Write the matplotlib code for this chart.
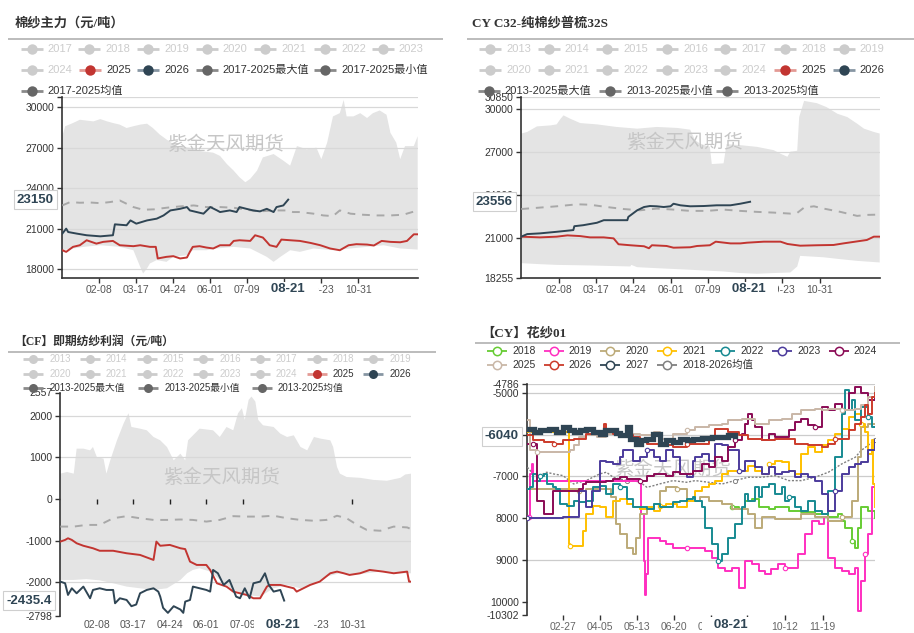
import numpy as np
import matplotlib
matplotlib.use('Agg')
import matplotlib.pyplot as plt

plt.rcParams['font.family'] = ['Liberation Sans', 'Noto Sans CJK SC']
plt.rcParams['axes.unicode_minus'] = False

# ---------------- DATA ----------------
# Top-left: 棉纱主力 (day of year)
tl_up_days = [0,3,11,18,32,39,46,52,59,66,73,80,87,93,100,107,117,131,141,155,162,169,176,182,188,193,200,206,217,227,234,241,251,261,266,272,278,285,289,292,299,306,313,319,326,333,337,343,347,352,361,365]
tl_up_vals = [27850,28590,28830,29070,28950,29120,28950,28830,28710,28460,28590,28710,28780,28460,27980,27610,27120,27000,26760,26630,26390,25790,25300,24810,24440,24690,25300,26280,26530,26040,25670,27120,26880,27000,26150,27370,29320,29560,30540,29320,29320,29560,29200,29560,29760,29440,28100,27370,26150,27120,27120,27850]
tl_lo_days = [0,22,39,59,73,80,83,87,90,97,107,114,128,134,148,159,176,193,210,217,224,234,244,258,278,296,313,330,347,365]
tl_lo_vals = [19400,19650,19770,19650,19400,18170,17680,18050,18420,18670,18540,18910,19030,19400,19400,19530,19650,19530,18910,18540,18910,19400,19280,19530,19400,19530,19650,19770,19530,19450]
tl_2025_days = [0,4,11,18,25,35,42,52,59,73,80,90,96,98,107,114,121,128,131,134,141,148,155,162,172,176,182,193,198,206,210,213,220,225,234,244,255,265,275,285,294,302,313,320,328,337,347,354,361,365]
tl_2025_vals = [19400,19280,19650,19770,20140,19890,20020,20090,19770,19700,19770,19650,19650,18790,18910,18960,18790,18860,19280,19650,19700,19600,19530,19770,19770,20090,20140,20090,20510,20340,20020,19770,19650,20190,20140,20090,19940,19770,19530,19400,19770,19850,19820,19750,20090,20020,19990,20090,20580,20580]
tl_2026_days = [0,4,6,15,25,39,52,54,66,70,76,87,97,104,111,121,128,131,138,145,152,159,162,172,179,182,189,196,203,210,217,220,227,232]
tl_2026_vals = [20630,21000,20750,20630,20510,20430,20510,21320,21250,21610,21370,21610,21740,21980,22350,22470,22600,22350,22230,22110,22600,22350,22230,22350,22230,22600,22470,22350,22280,22470,22230,22600,22720,23150]
tl_mean_days = [0,8,18,28,39,49,59,73,83,94,107,121,135,148,162,176,189,203,217,230,237,244,258,268,278,285,296,309,323,337,350,365]
tl_mean_vals = [22720,22970,22920,22940,22890,22970,23090,22600,22400,22430,22550,22650,22720,22600,22600,22550,22400,22280,22350,22350,22230,22230,22110,21980,21930,22350,22110,22030,21980,21980,22030,22350]

# Top-right: CY C32
tr_up_days = [0,6,16,30,36,40,43,50,60,77,97,118,138,159,172,177,182,192,194,206,208,209,223,240,257,265,271,274,281,283,288,301,311,322,332,342,349,359,365]
tr_up_vals = [28320,28430,28820,28890,28960,29350,29590,29350,29050,28960,28780,28660,28780,28710,28590,27850,27620,27390,26190,26240,27120,27580,27510,27390,27160,26880,26700,27050,27120,29470,30600,30440,30160,29700,29470,29010,28660,28430,28320]
tr_lo_days = [0,19,36,70,87,111,112,118,138,172,206,223,240,257,274,281,284,308,325,342,365]
tr_lo_vals = [19270,19200,19150,19110,19080,19040,19150,18990,18920,18810,18690,18580,18530,18580,18620,19040,19780,19680,19550,19430,19320]
tr_2025_days = [0,19,36,47,60,70,84,94,99,111,125,130,133,148,155,172,179,192,198,213,223,230,247,264,271,284,301,318,328,342,352,359,365]
tr_2025_vals = [21120,21070,21120,21210,21160,21070,21070,21000,20590,20520,20450,20310,20520,20470,20350,20380,20470,20520,20770,20650,20650,20700,20770,20770,20610,20490,20520,20540,20650,20790,20890,21120,21120]
tr_2026_days = [0,6,19,36,53,54,63,77,84,97,108,109,118,125,131,138,145,152,155,162,172,186,199,213,223,233]
tr_2026_vals = [21120,21300,21350,21460,21580,21850,21920,22090,22270,22270,22270,22500,22960,23190,23260,23240,23190,23240,23420,23310,23240,23260,23310,23310,23420,23556]
tr_mean_days = [0,19,36,57,70,87,104,121,138,155,172,189,206,223,240,257,274,281,288,298,308,325,342,352,365]
tr_mean_vals = [23050,23150,23240,23380,23350,23190,23050,22960,23080,23010,22920,22920,23010,22920,22850,22800,22730,22780,23150,23240,23080,22850,22570,22640,22660]

# Bottom-left: 即期纺纱利润
bl_up_days = [0,7,14,17,24,31,34,38,45,48,52,59,66,71,74,83,90,97,104,111,118,125,130,133,145,159,166,173,180,185,189,192,196,199,203,206,211,222,229,236,243,250,257,264,271,281,284,288,291,298,312,326,340,354,359,365]
bl_up_vals = [610,650,610,1210,1210,1170,1250,1010,970,610,930,1410,1820,2060,1730,1690,1650,1490,1410,1250,930,1090,930,1410,1690,1650,1490,1730,1650,2060,2180,1900,2380,2460,2340,1900,1770,1730,1570,1490,1530,1250,1170,1490,1450,1410,1250,770,610,530,510,460,440,510,590,610]
bl_lo_days = [0,14,27,41,55,69,83,97,111,125,132,138,145,156,166,180,194,208,222,236,250,264,277,291,305,319,333,347,361,365]
bl_lo_vals = [-1940,-1940,-1920,-1950,-2020,-2100,-2140,-2180,-2140,-1940,-1780,-1700,-1660,-1740,-1940,-2180,-2300,-2340,-2140,-2060,-2140,-2020,-1860,-1780,-1820,-1780,-1740,-1780,-1780,-1780]
bl_2025_days = [0,5,8,12,17,24,34,41,55,69,83,90,97,100,104,114,125,130,135,142,152,156,163,173,180,194,201,208,215,218,229,236,243,246,253,260,270,281,288,295,301,312,322,336,347,361,363,365]
bl_2025_vals = [-1020,-980,-940,-980,-1060,-1120,-1180,-1240,-1240,-1300,-1340,-1400,-1460,-1020,-1120,-1100,-1180,-1200,-1500,-1580,-1580,-1700,-2020,-2100,-2220,-2300,-2380,-2380,-2100,-2060,-2060,-2100,-2140,-2220,-2140,-2060,-1980,-1780,-1740,-1780,-1820,-1780,-1700,-1740,-1780,-1740,-1980,-1980]
bl_2026_days = [0,5,8,12,17,24,31,34,41,48,55,57,62,69,74,79,83,90,97,102,104,107,112,118,125,128,130,135,138,145,152,156,159,164,170,176,183,187,192,197,201,208,213,217,222,229,233]
bl_2026_vals = [-1980,-2020,-2300,-2140,-2260,-2100,-2380,-2180,-2140,-2180,-2180,-2500,-2380,-2420,-2570,-2530,-2260,-2180,-2140,-2220,-2340,-2610,-2730,-2570,-2650,-2730,-2460,-2420,-2100,-2140,-2180,-2220,-1700,-1780,-2060,-1940,-2340,-2380,-2140,-2380,-2020,-1980,-1780,-2060,-2220,-2180,-2435.4]
bl_mean_days = [0,14,27,41,55,69,83,97,111,125,138,152,166,180,194,208,222,236,250,264,277,288,298,309,319,333,347,361,365]
bl_mean_vals = [-660,-660,-620,-620,-460,-410,-460,-500,-500,-490,-500,-540,-500,-410,-420,-420,-400,-460,-500,-520,-500,-400,-460,-620,-740,-760,-660,-680,-720]

# Bottom-right: 花纱01 (days from axis start)
br_2018_days = [212,219,226,233,240,250,257,271,284,298,312,322,326,329,336,340,343,346,353,360]
br_2018_vals = [-7740,-7780,-7580,-7540,-7740,-7780,-7740,-7820,-7860,-7900,-7980,-7900,-8060,-8220,-8540,-8700,-8220,-7740,-7820,-7990]
br_2019_days = [0,2,3,5,6,117,118,121,122,123,125,131,137,144,151,165,174,184,191,198,205,212,219,226,233,240,246,253,260,267,274,281,288,295,302,307,312,319,326,333,340,343,346,350,353,357,360]
br_2019_vals = [-7980,-7980,-6940,-6700,-7100,-7100,-7900,-9020,-9820,-9340,-8460,-8460,-8540,-8620,-8700,-8700,-8700,-8780,-8940,-9180,-9260,-9180,-9660,-9020,-9100,-9260,-9340,-9220,-9100,-9180,-9180,-8860,-8380,-8060,-8140,-7980,-8940,-9180,-9260,-9340,-9180,-10220,-9500,-8860,-8380,-7260,-7260]
br_2020_days = [0,27,54,61,82,87,92,96,103,110,113,117,124,131,137,144,155,165,179,188,202,212,229,236,243,257,271,284,298,312,326,336,343,346,353,360]
br_2020_vals = [-7300,-7300,-7340,-7300,-7300,-7500,-8140,-8380,-8700,-8860,-8460,-7900,-7740,-7660,-7340,-7260,-7300,-7580,-7500,-7580,-7660,-7780,-7900,-8220,-7980,-8020,-8020,-7900,-7980,-8060,-7980,-7580,-6540,-5820,-5740,-5740]
br_2021_days = [0,41,43,44,56,58,61,68,75,82,89,96,103,110,117,124,131,137,144,155,165,174,181,188,195,202,208,222,229,236,243,250,257,264,271,277,284,291,298,305,312,319,326,333,340,346,350,353,357,358,360]
br_2021_vals = [-5940,-5940,-8620,-8660,-8660,-8300,-7900,-7700,-7740,-7980,-7580,-7540,-7660,-7740,-7780,-7740,-7820,-7700,-7660,-7740,-7580,-7340,-7260,-7180,-7100,-6940,-6860,-6860,-6740,-6860,-6940,-6700,-6620,-6660,-6860,-6940,-6460,-6300,-6420,-6260,-6140,-5980,-5860,-5580,-5500,-5740,-5940,-6460,-6140,-7180,-7740]
br_2022_days = [0,3,6,10,13,17,20,27,30,34,41,48,54,61,68,75,82,89,96,103,110,124,131,137,151,158,165,172,174,181,184,191,198,202,208,215,222,226,229,236,240,243,250,257,264,267,271,277,284,291,298,305,312,319,326,329,333,336,340,346,353,357,360]
br_2022_vals = [-7300,-7260,-6940,-7100,-6980,-6940,-7180,-7260,-7300,-7660,-7700,-7580,-7620,-7580,-7260,-7220,-7420,-7180,-7260,-7540,-7740,-7780,-7660,-7740,-7620,-7580,-7540,-7500,-7580,-7740,-8220,-8620,-9020,-8860,-8460,-8140,-7740,-7420,-7580,-7260,-7500,-7260,-7180,-7420,-7260,-7580,-7500,-7740,-7820,-7580,-7820,-7900,-7340,-6540,-5500,-4940,-5420,-5180,-5660,-5340,-5580,-5820,-5820]
br_2023_days = [0,37,51,54,61,67,75,82,89,96,99,106,110,117,124,131,137,144,151,158,165,172,174,181,188,195,202,208,219,226,236,243,250,257,264,271,277,284,291,298,305,312,319,326,333,340,346,353,360]
br_2023_vals = [-7990,-7980,-7980,-7340,-7740,-7340,-6620,-6660,-6700,-6540,-6380,-6380,-6620,-6540,-6380,-6540,-6620,-6380,-6540,-6940,-7020,-6620,-6540,-6460,-6620,-6220,-6260,-6380,-6860,-6620,-6780,-6940,-6780,-6940,-6900,-6860,-7020,-6940,-7020,-7100,-7420,-7820,-7340,-6940,-6780,-6700,-6660,-6380,-6140]
br_2024_days = [0,6,10,17,23,27,41,54,58,61,68,82,89,96,103,117,124,131,144,151,158,165,172,174,181,188,195,202,208,215,222,226,229,233,236,243,250,257,264,271,277,284,291,298,305,312,319,326,333,340,346,353,360]
br_2024_vals = [-6220,-6220,-7580,-7900,-7900,-7340,-7340,-7300,-7180,-7140,-7140,-7100,-7060,-7020,-7060,-7100,-6980,-6940,-6980,-6900,-6940,-6940,-6860,-6860,-6700,-6780,-6540,-6620,-6300,-6140,-5980,-5740,-5500,-5660,-5820,-6140,-5980,-6060,-6060,-5900,-5700,-5620,-5780,-5820,-5340,-5420,-5260,-5420,-5020,-4860,-5020,-5180,-5100]
br_2025_days = [0,3,10,37,44,48,54,61,72,82,96,106,117,131,137,151,165,174,188,202,208,222,236,250,264,274,284,298,305,312,326,340,346,353,360]
br_2025_vals = [-5660,-6380,-6420,-6420,-6380,-6260,-6060,-6020,-6060,-5980,-6020,-5980,-6020,-5940,-6100,-5980,-5900,-5820,-5780,-5740,-5660,-5620,-5740,-5660,-5620,-5500,-5420,-5380,-5420,-5380,-5420,-5380,-5300,-5100,-4860]
br_2026_days = [0,6,17,28,37,48,61,68,79,82,89,96,110,117,124,137,151,165,174,188,195,208,219,229,243,257,267,277,291,305,312,319,333,340,346,350,353,357,360]
br_2026_vals = [-6020,-6140,-6180,-6220,-6140,-6100,-5980,-5940,-5740,-5940,-5980,-6020,-6060,-6140,-6220,-6260,-6300,-6220,-6220,-6100,-5860,-5940,-6020,-6100,-6140,-6100,-6100,-6220,-6260,-6300,-6220,-6100,-5900,-5740,-5580,-5300,-5500,-5100,-5020]
br_2027_days = [0,7,13,22,30,37,43,48,55,61,68,75,80,86,92,96,103,106,113,118,123,130,137,144,151,158,165,172,181,191,200,208,215]
br_2027_vals = [-5860,-5940,-5900,-5860,-5940,-5820,-5900,-5940,-5880,-5860,-5940,-5980,-5900,-5900,-5960,-6020,-5820,-6100,-6220,-6120,-6100,-5980,-6220,-6140,-6180,-6100,-6140,-6100,-6080,-6060,-6060,-6020,-6040]
br_mean_days = [0,6,13,20,27,37,48,54,61,68,75,82,89,96,103,110,117,124,131,137,144,151,165,174,188,202,215,229,243,257,271,284,298,312,326,340,346,353,360]
br_mean_vals = [-6780,-6940,-6980,-6900,-6940,-6980,-7180,-7140,-7100,-7020,-6940,-6900,-7020,-7060,-7100,-7100,-7140,-7260,-7220,-7180,-7140,-7100,-7140,-7100,-7140,-7180,-7100,-7020,-7020,-6980,-7100,-7100,-7020,-6900,-6700,-6540,-6380,-6260,-6140]

# ticks / labels
md_ticks = [38, 76, 114, 152, 190, 228, 266, 304]
md_labels = ['02-08', '03-17', '04-24', '06-01', '07-09', '08-16', '09-23', '10-31']
br_ticks = [37, 75, 114, 152, 190, 228, 267, 306]
br_labels = ['02-27', '04-05', '05-13', '06-20', '07-28', '09-04', '10-12', '11-19']
bl_zero_ticks = [38, 76, 114, 152, 190, 304]

tl_yticks = [18000, 21000, 24000, 27000, 30000, 30780]
tl_ylabels = ['18000', '21000', '24000', '27000', '30000', '']
tr_yticks = [18255, 21000, 24000, 27000, 30000, 30850]
tr_ylabels = ['18255', '21000', '24000', '27000', '30000', '30850']
bl_yticks = [-2798, -2000, -1000, 0, 1000, 2000, 2557]
bl_ylabels = ['-2798', '-2000', '-1000', '0', '1000', '2000', '2557']
br_yticks = [-10302, -10000, -9000, -8000, -7000, -6000, -5000, -4786]
br_ylabels = ['-10302', '10000', '9000', '8000', '-7000', '-6000', '-5000', '-4786']

years_tl = ['2017', '2018', '2019', '2020', '2021', '2022', '2023', '2024']
years_tr = ['2013', '2014', '2015', '2016', '2017', '2018', '2019', '2020', '2021', '2022', '2023', '2024']

RED = '#c23531'
NAVY = '#2f4554'
FILL = '#e4e4e4'
MEANC = '#a8a8a8'

# ---------------- FIGURE ----------------
W, H = 914, 633
fig = plt.figure(figsize=(W / 100, H / 100), dpi=100)
fig.patch.set_facecolor('white')


def add_ax(l, t, r, b):
    return fig.add_axes([l / W, 1 - b / H, (r - l) / W, (b - t) / H])


def style_ax(ax, xlim, ylim, xt, xl, yt, yl, grid_vals, grid_color, bottom=True, xtick_len=3.6):
    ax.set_xlim(*xlim)
    ax.set_ylim(*ylim)
    ax.set_facecolor('none')
    for s in ['top', 'right']:
        ax.spines[s].set_visible(False)
    ax.spines['left'].set_color('#333333')
    ax.spines['left'].set_linewidth(1.2)
    if bottom:
        ax.spines['bottom'].set_color('#333333')
        ax.spines['bottom'].set_linewidth(1.2)
    else:
        ax.spines['bottom'].set_visible(False)
    ax.set_xticks(xt, xl)
    ax.set_yticks(yt, yl)
    ax.tick_params(axis='x', length=xtick_len, width=1, color='#333333', labelsize=7.5,
                   labelcolor='#555555', pad=1.8)
    ax.tick_params(axis='y', length=3.4, width=1, color='#333333', labelsize=7.5,
                   labelcolor='#333333', pad=2.5)
    for v in grid_vals:
        ax.axhline(v, color=grid_color, lw=0.9, zorder=1.5)


def band(ax, ud, uv, ld, lv):
    ax.fill(np.concatenate([ud, ld[::-1]]), np.concatenate([uv, lv[::-1]]),
            color=FILL, lw=0, zorder=1)


def watermark(ax, fx, fy):
    ax.text(fx, fy, '紫金天风期货', transform=ax.transAxes, fontsize=14, color='#c6c6c6',
            ha='center', va='center', zorder=1.6, family=['Noto Sans CJK SC'])


def x_pointer(ax, day, text, dy):
    ax.annotate('   ' + text + '   ', xy=(day, 0), xycoords=('data', 'axes fraction'),
                xytext=(0, -dy), textcoords='offset points', ha='center', va='center',
                fontsize=9.5, fontweight='bold', color=NAVY,
                bbox=dict(boxstyle='square,pad=0.12', fc='white', ec='none'),
                zorder=20, annotation_clip=False)


def y_pointer(ax, val, text):
    ax.annotate(text, xy=(0, val), xycoords=('axes fraction', 'data'),
                xytext=(-6, 0), textcoords='offset points', ha='right', va='center',
                fontsize=9.5, fontweight='bold', color=NAVY,
                bbox=dict(boxstyle='square,pad=0.25', fc='white', ec='#cfcfcf', lw=0.8),
                zorder=20, annotation_clip=False)


def seasonal(ax, ud, uv, ld, lv, md, mv, d25, v25, d26, v26):
    band(ax, np.array(ud), np.array(uv), np.array(ld), np.array(lv))
    ax.plot(md, mv, color=MEANC, lw=1.4, ls=(0, (4, 3.5)), zorder=3)
    ax.plot(d25, v25, color=RED, lw=1.4, zorder=4)
    ax.plot(d26, v26, color=NAVY, lw=1.4, zorder=5)


# ---- Top-left
ax1 = add_ax(62.3, 96.7, 417.7, 277.7)
style_ax(ax1, (0, 365), (17364, 30780), md_ticks, md_labels, tl_yticks, tl_ylabels,
         [21000, 24000, 27000, 30000, 30780, 18000], '#d8d8d8')
seasonal(ax1, tl_up_days, tl_up_vals, tl_lo_days, tl_lo_vals, tl_mean_days, tl_mean_vals,
         tl_2025_days, tl_2025_vals, tl_2026_days, tl_2026_vals)
watermark(ax1, 0.46, 0.735)
x_pointer(ax1, 232, '08-21', 8.4)
y_pointer(ax1, 23150, '23150')

# ---- Top-right
ax2 = add_ax(521.3, 97.3, 879.7, 277.7)
style_ax(ax2, (0, 365), (18255, 30850), md_ticks, md_labels, tr_yticks, tr_ylabels,
         [21000, 24000, 27000, 30000, 30850], '#d8d8d8')
seasonal(ax2, tr_up_days, tr_up_vals, tr_lo_days, tr_lo_vals, tr_mean_days, tr_mean_vals,
         tr_2025_days, tr_2025_vals, tr_2026_days, tr_2026_vals)
watermark(ax2, 0.457, 0.747)
x_pointer(ax2, 232, '08-21', 8.4)
y_pointer(ax2, 23556, '23556')

# ---- Bottom-left
ax3 = add_ax(60.3, 392.5, 411.0, 615.7)
style_ax(ax3, (0, 365), (-2798, 2557), md_ticks, md_labels, bl_yticks, bl_ylabels,
         [2000, 1000, -1000, -2000], '#d8d8d8', bottom=False, xtick_len=0)
ax3.tick_params(axis='x', pad=3.2)
seasonal(ax3, bl_up_days, bl_up_vals, bl_lo_days, bl_lo_vals, bl_mean_days, bl_mean_vals,
         bl_2025_days, bl_2025_vals, bl_2026_days, bl_2026_vals)
ax3.plot(bl_zero_ticks, np.zeros(len(bl_zero_ticks)), ls='none', marker=3, ms=3.5,
         mew=1, color='#222222', zorder=6)
watermark(ax3, 0.46, 0.62)
x_pointer(ax3, 232, '08-21', 6.6)
y_pointer(ax3, -2435.4, '-2435.4')

# ---- Bottom-right
ax4 = add_ax(527.3, 383.7, 874.7, 614.7)
style_ax(ax4, (0, 360), (-10302, -4786), br_ticks, br_labels, br_yticks, br_ylabels,
         [-4786, -5000, -6000, -7000, -8000, -9000], '#cccccc', bottom=False)
ax4.tick_params(axis='x', labelcolor='#666666', pad=1.6)
watermark(ax4, 0.42, 0.63)
br_series = [
    ('2018', br_2018_days, br_2018_vals, '#66cc33', 1.4),
    ('2019', br_2019_days, br_2019_vals, '#ff2fc0', 1.4),
    ('2020', br_2020_days, br_2020_vals, '#bcaa78', 1.4),
    ('2021', br_2021_days, br_2021_vals, '#ffc000', 1.4),
    ('2022', br_2022_days, br_2022_vals, '#178a92', 1.4),
    ('2023', br_2023_days, br_2023_vals, '#4c3b9c', 1.4),
    ('2024', br_2024_days, br_2024_vals, '#8a0b55', 1.4),
    ('2025', br_2025_days, br_2025_vals, '#c9b7a7', 1.4),
    ('2026', br_2026_days, br_2026_vals, '#cc3b2b', 1.4),
    ('2027', br_2027_days, br_2027_vals, NAVY, 3.8),
]
for i, (name, d, v, c, lw) in enumerate(br_series):
    if name == '2027':
        ax4.plot(d, v, color=c, lw=lw, drawstyle='steps-post', zorder=4.5,
                 solid_joinstyle='miter')
    else:
        ax4.plot(d, v, color=c, lw=lw, drawstyle='steps-post', marker='o', ms=3.2,
                 mfc='white', mec=c, mew=0.8, markevery=(i % 5, 14), zorder=3 + i * 0.1)
ax4.plot(br_mean_days, br_mean_vals, color='#808080', lw=1.0, ls=(0, (1.5, 1.2)),
         marker='o', ms=3.0, mfc='white', mec='#808080', mew=0.7, markevery=(2, 12), zorder=3.05)
x_pointer(ax4, 211, '08-21', 7.3)
y_pointer(ax4, -6040, '-6040')

# ---------------- OVERLAY: titles, rules, legends ----------------
ov = fig.add_axes([0, 0, 1, 1], zorder=50)
ov.set_xlim(0, W)
ov.set_ylim(H, 0)
ov.set_axis_off()
ov.patch.set_visible(False)

TITLE_FAM = ['Liberation Serif', 'Noto Sans CJK SC']
ov.text(15, 23, '棉纱主力（元/吨）', fontsize=9.5, fontweight='bold', color='#333333',
        va='center', ha='left', family=TITLE_FAM)
ov.text(472, 23, 'CY C32-纯棉纱普梳32S', fontsize=9.5, fontweight='bold', color='#333333',
        va='center', ha='left', family=TITLE_FAM)
ov.text(14, 341.5, '【CF】即期纺纱利润（元/吨）', fontsize=8.5, fontweight='bold', color='#333333',
        va='center', ha='left', family=TITLE_FAM)
ov.text(481, 333, '【CY】花纱01', fontsize=9.5, fontweight='bold', color='#333333',
        va='center', ha='left', family=TITLE_FAM)
for (x0, x1, y) in [(8, 443, 38.5), (467, 914, 38.5), (8, 436, 352.3), (475, 900, 343.3)]:
    ov.plot([x0, x1], [y, y], color='#aaaaaa', lw=1.1, solid_capstyle='butt')


def leg(x, y, label, lcol, mcol, tcol, fs=8, ms=7.5, half=11, gap=16, hollow=False, llw=2.0):
    ov.plot([x - half, x + half], [y, y], color=lcol, lw=llw, solid_capstyle='butt')
    if hollow:
        ov.plot([x], [y], 'o', ms=ms, mfc='white', mec=mcol, mew=1.1)
    else:
        ov.plot([x], [y], 'o', ms=ms, mfc=mcol, mec=mcol, mew=0)
    ov.text(x + gap, y, label, fontsize=fs, color=tcol, va='center', ha='left')


GREY = '#cccccc'
# Top-left legend
xs_tl = [31.7, 89.3, 148.3, 206.7, 265, 325, 382.7]
for k, yr in enumerate(years_tl[:7]):
    leg(xs_tl[k], 49.3, yr, GREY, GREY, GREY)
leg(31.7, 70, years_tl[7], GREY, GREY, GREY)
leg(90, 70, '2025', '#e39a95', RED, '#333333')
leg(148.3, 70, '2026', '#8796a3', NAVY, '#333333')
leg(206.7, 70, '2017-2025最大值', '#8a8a8a', '#666666', '#333333')
leg(325, 70, '2017-2025最小值', '#8a8a8a', '#666666', '#333333')
leg(31.7, 91, '2017-2025均值', '#8a8a8a', '#666666', '#333333')

# Top-right legend
xs_tr = [490.3, 548.7, 607, 667, 725.3, 785.3, 843.7]
for k, yr in enumerate(years_tr[:7]):
    leg(xs_tr[k], 49.3, yr, GREY, GREY, GREY)
for k, yr in enumerate(years_tr[7:]):
    leg(xs_tr[k], 70, yr, GREY, GREY, GREY)
leg(xs_tr[5], 70, '2025', '#e39a95', RED, '#333333')
leg(xs_tr[6], 70, '2026', '#8796a3', NAVY, '#333333')
leg(488.7, 91, '2013-2025最大值', '#8a8a8a', '#666666', '#333333')
leg(610.3, 91, '2013-2025最小值', '#8a8a8a', '#666666', '#333333')
leg(727, 91, '2013-2025均值', '#8a8a8a', '#666666', '#333333')

# Bottom-left legend
xs_bl = [33.3, 90, 146.7, 203.3, 260, 316.7, 373.3]
for k, yr in enumerate(years_tr[:7]):
    leg(xs_bl[k], 359.3, yr, GREY, GREY, GREY, fs=7, ms=6.5, half=10)
for k, yr in enumerate(years_tr[7:]):
    leg(xs_bl[k], 374, yr, GREY, GREY, GREY, fs=7, ms=6.5, half=10)
leg(xs_bl[5], 374, '2025', '#e39a95', RED, '#333333', fs=7, ms=6.5, half=10)
leg(xs_bl[6], 374, '2026', '#8796a3', NAVY, '#333333', fs=7, ms=6.5, half=10)
leg(33.3, 388.3, '2013-2025最大值', '#8a8a8a', '#666666', '#333333', fs=7, ms=6.5, half=10)
leg(148.3, 388.3, '2013-2025最小值', '#8a8a8a', '#666666', '#333333', fs=7, ms=6.5, half=10)
leg(261.7, 388.3, '2013-2025均值', '#8a8a8a', '#666666', '#333333', fs=7, ms=6.5, half=10)

# Bottom-right legend
xs_br = [497, 553.7, 610.3, 667, 725.3, 782, 838.7]
for k, (name, d, v, c, lw) in enumerate(br_series[:7]):
    leg(xs_br[k], 350.7, name, c, c, '#333333', fs=7.5, ms=6, half=10, gap=15, hollow=True, llw=1.3)
for k, (name, d, v, c, lw) in enumerate(br_series[7:]):
    leg(xs_br[k], 365, name, c, c, '#333333', fs=7.5, ms=6, half=10, gap=15, hollow=True, llw=1.3)
leg(xs_br[3], 365, '2018-2026均值', '#808080', '#808080', '#333333', fs=7.5, ms=6, half=10,
    gap=15, hollow=True, llw=1.3)

fig.savefig('out.png', dpi=100, facecolor='white')
